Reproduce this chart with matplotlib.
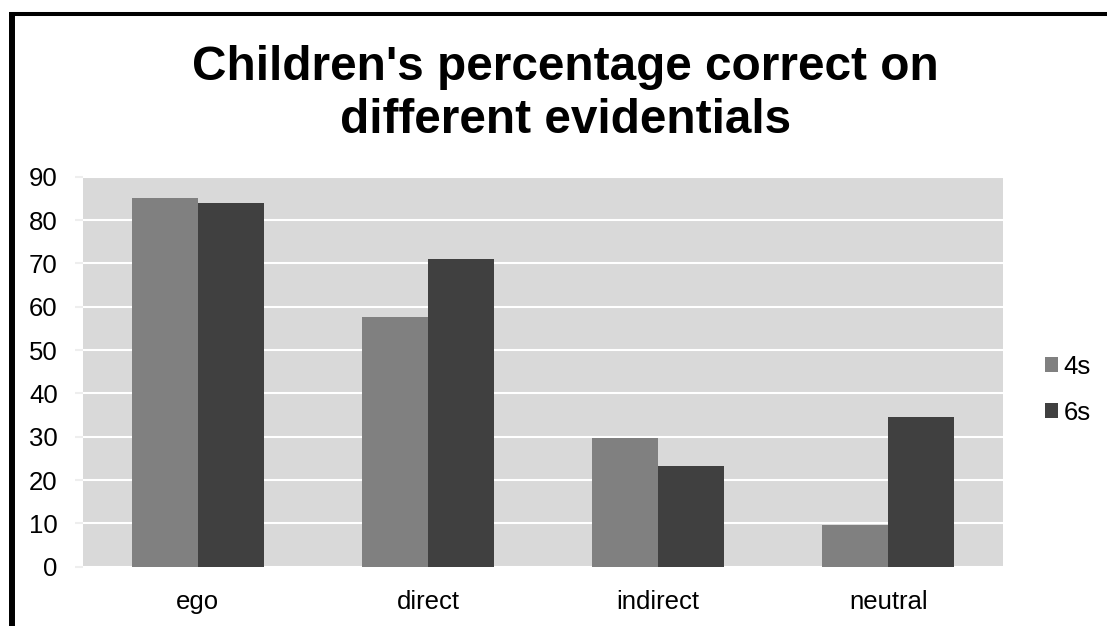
import matplotlib
matplotlib.use("Agg")
import matplotlib.pyplot as plt
from matplotlib.patches import Patch
from matplotlib.lines import Line2D
import numpy as np

categories = ["ego", "direct", "indirect", "neutral"]
series_names = ["4s", "6s"]
values_4s = [85, 57.6, 29.7, 9.7]
values_6s = [84, 71, 23.3, 34.5]
yticks = [0, 10, 20, 30, 40, 50, 60, 70, 80, 90]
title = "Children's percentage correct on\ndifferent evidentials"

colors = ["#808080", "#404040"]
plot_bg = "#d9d9d9"

plt.rcParams["font.family"] = ["Liberation Sans", "DejaVu Sans"]

W, H = 1107, 626
fig = plt.figure(figsize=(W / 100, H / 100), dpi=100)
fig.patch.set_facecolor("white")

ax = fig.add_axes([82.7 / W, (H - 566.7) / H, 920.6 / W, 390.0 / H])
ax.set_facecolor(plot_bg)

x = np.arange(len(categories))
bw = 0.287
ax.bar(x - bw / 2, values_4s, width=bw, color=colors[0], zorder=3, label=series_names[0])
ax.bar(x + bw / 2, values_6s, width=bw, color=colors[1], zorder=3, label=series_names[1])

ax.set_xlim(-0.5, len(categories) - 0.5)
ax.set_ylim(0, 90)
ax.set_yticks(yticks)
ax.set_yticklabels([str(v) for v in yticks])
ax.set_xticks(x)
ax.set_xticklabels(categories)

ax.yaxis.grid(True, color="white", linewidth=1.5, zorder=1)
ax.set_axisbelow(True)
for s in ax.spines.values():
    s.set_visible(False)

ax.tick_params(axis="y", length=6, color="#eeeeee", width=1.5, pad=12, labelsize=18.5, labelcolor="black")
ax.tick_params(axis="x", length=0, pad=17, labelsize=18.5, labelcolor="black")

# two-line title; baseline of the second line fixed in pixels
fig.text(565.5 / W, (H - 133) / H, title, ha="center", va="baseline", fontsize=34.4,
         fontweight="bold", linespacing=1.22, multialignment="center",
         transform=fig.transFigure)

handles = [Patch(facecolor=c, edgecolor="none") for c in colors]
fig.legend(handles, series_names, loc="center left",
           bbox_to_anchor=(1045 / W, (H - 390) / H), frameon=False,
           fontsize=18.5, handlelength=0.52, handleheight=0.52,
           handletextpad=0.2, labelspacing=0.85, borderpad=0, borderaxespad=0)

# partial frame along the left and top edges
fig.add_artist(Line2D([12 / W, 12 / W], [0, (H - 12) / H], color="black",
                      linewidth=4.3, transform=fig.transFigure, solid_capstyle="butt"))
fig.add_artist(Line2D([9 / W, 1], [(H - 14) / H, (H - 14) / H], color="black",
                      linewidth=2.9, transform=fig.transFigure, solid_capstyle="butt"))

fig.savefig("out.png", dpi=100)
